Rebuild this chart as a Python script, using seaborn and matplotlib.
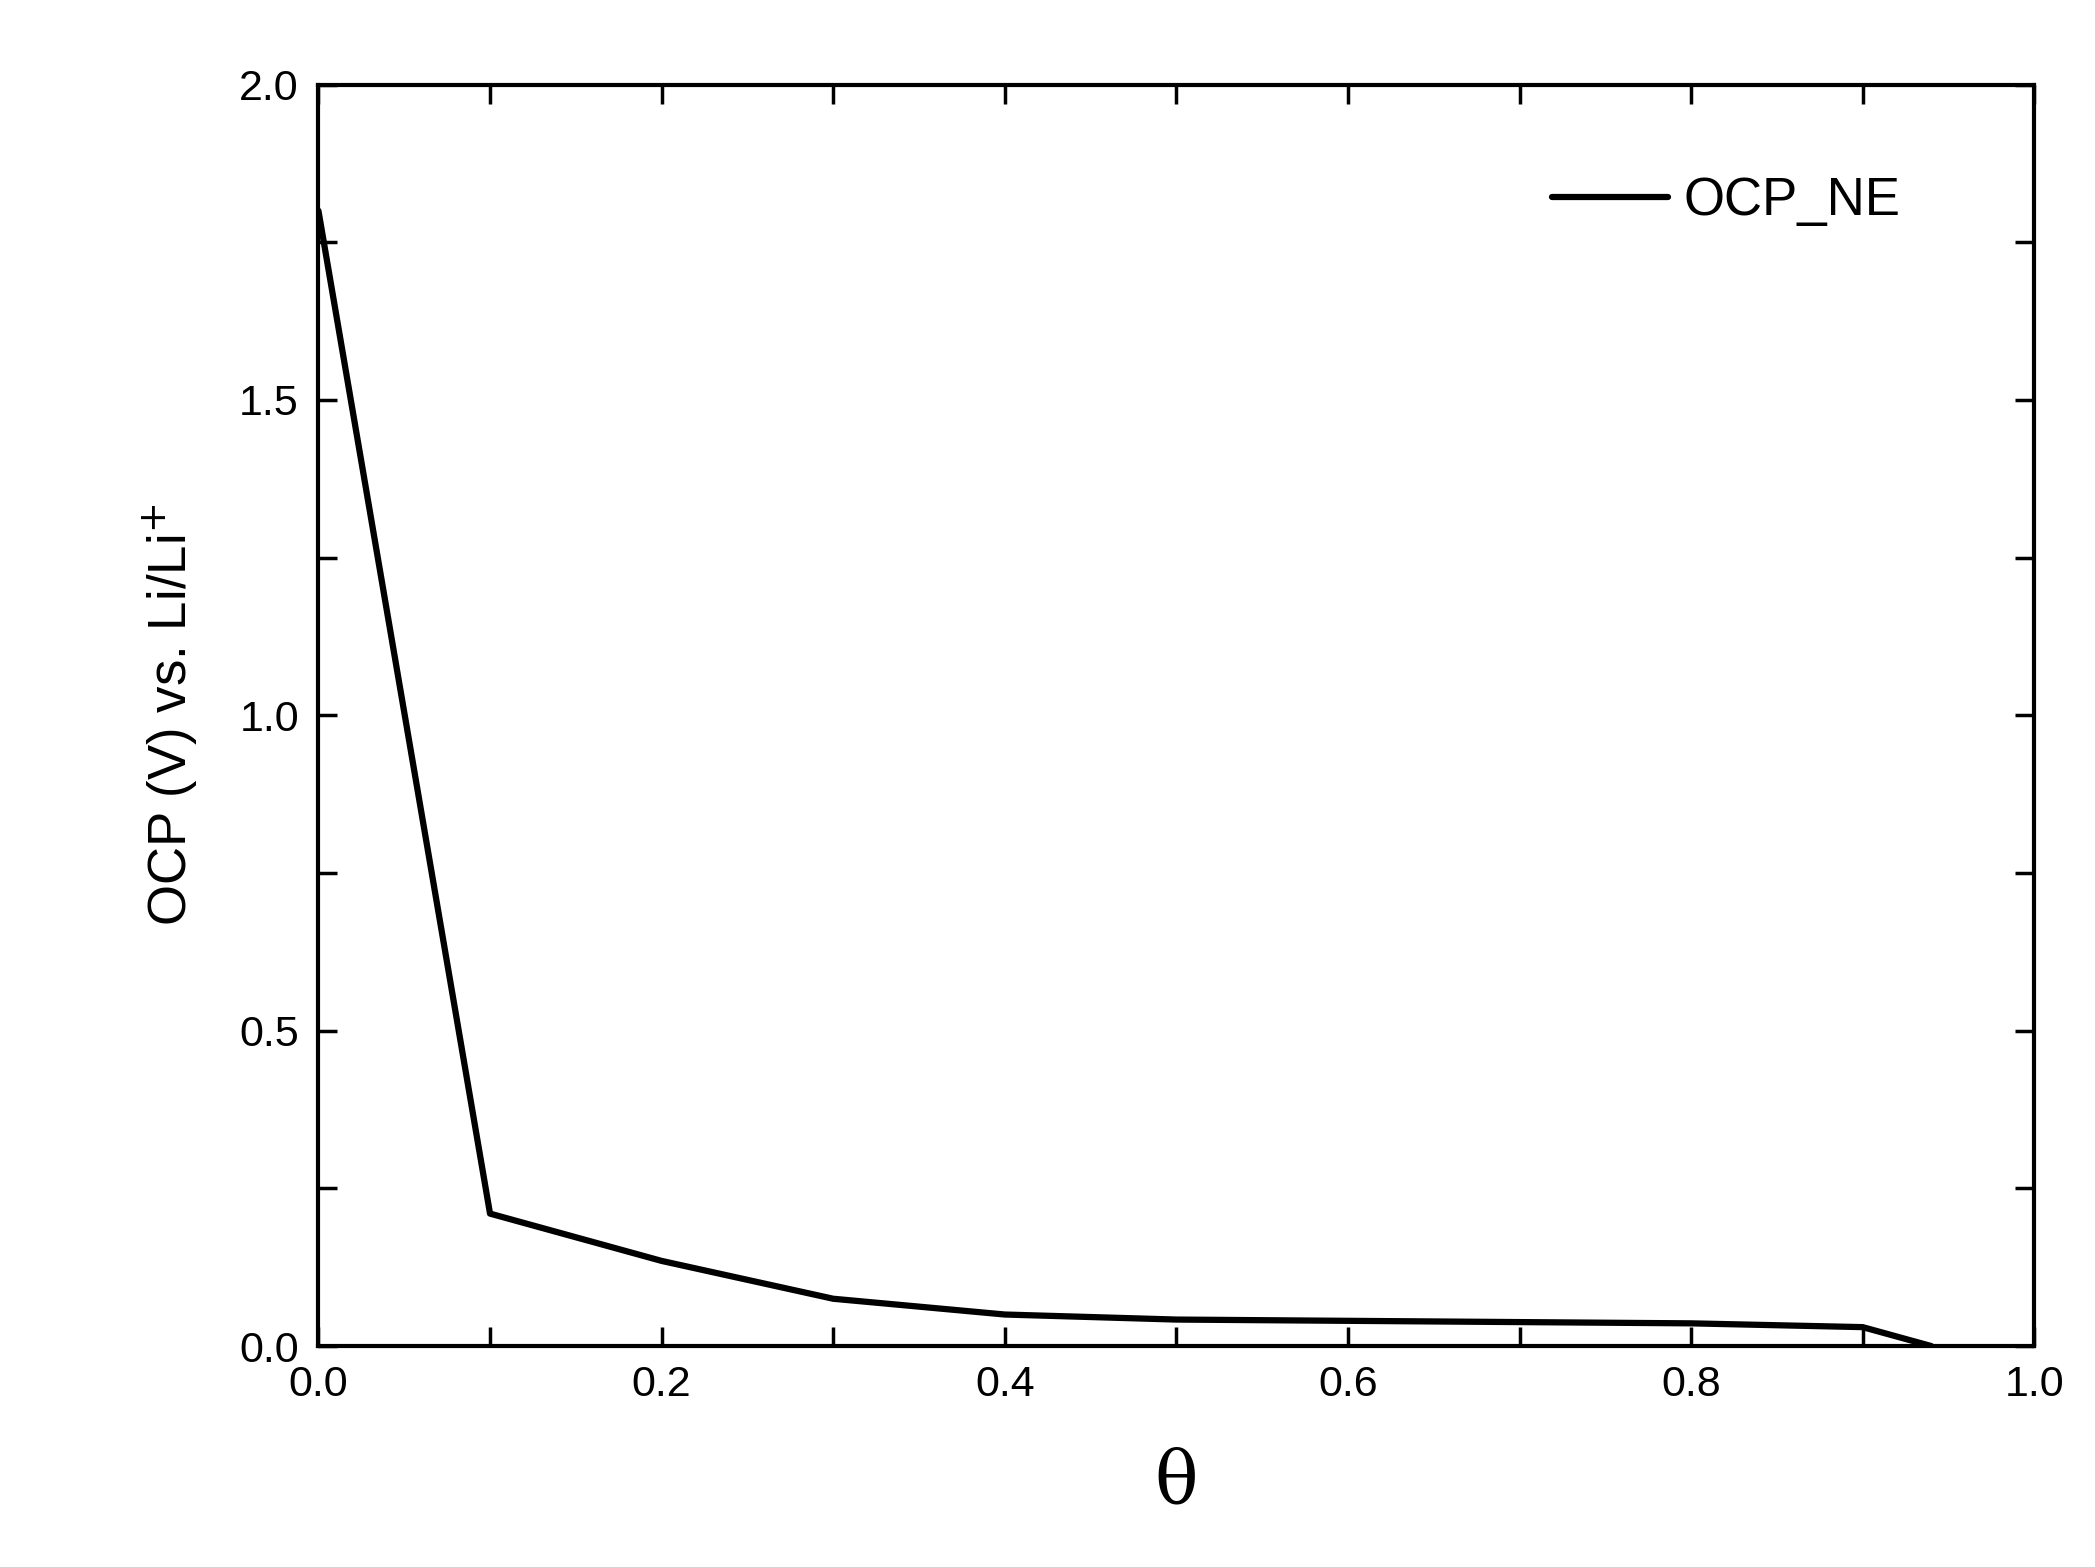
import matplotlib
matplotlib.use("Agg")
import matplotlib.pyplot as plt
import seaborn as sns
import pandas as pd
from matplotlib.ticker import MultipleLocator

theta = [0.0, 0.1, 0.2, 0.3, 0.4, 0.5, 0.6, 0.7, 0.8, 0.9, 0.94]
ocp = [1.80, 0.21, 0.135, 0.075, 0.05, 0.042, 0.04, 0.038, 0.036, 0.03, 0.0]
df = pd.DataFrame({"theta": theta, "ocp": ocp})

sns.set_theme(style="white")
plt.rcParams['font.family'] = ['Liberation Sans', 'DejaVu Sans']
fig = plt.figure(figsize=(20.95, 15.67), dpi=100)
ax = fig.add_axes([0.152, 0.141, 0.819, 0.805])
sns.lineplot(data=df, x="theta", y="ocp", ax=ax, color="black", linewidth=4.5, label="OCP_NE")
ax.set_xlim(0, 1.0)
ax.set_ylim(0, 2.0)
ax.xaxis.set_major_locator(MultipleLocator(0.2))
ax.xaxis.set_minor_locator(MultipleLocator(0.1))
ax.yaxis.set_major_locator(MultipleLocator(0.5))
ax.yaxis.set_minor_locator(MultipleLocator(0.25))
ax.set_xticklabels([f"{v:.1f}" for v in ax.get_xticks()])
ax.set_yticklabels([f"{v:.1f}" for v in ax.get_yticks()])
ax.tick_params(which="both", direction="in", top=True, right=True, bottom=True, left=True,
               labelsize=31, width=2.5, color="black", labelcolor="black", pad=14)
ax.tick_params(which="both", length=14)
for s in ax.spines.values():
    s.set_linewidth(3); s.set_color("black")
ax.set_xlabel("θ", fontsize=52, family="DejaVu Serif", labelpad=30, color="black")
ax.set_ylabel("OCP (V) vs. Li/Li$^{+}$", fontsize=38, labelpad=28, color="black")
leg = ax.legend(loc="upper right", fontsize=38, frameon=False, handlelength=2.2,
                handletextpad=0.3, bbox_to_anchor=(0.95, 0.965))
for t in leg.get_texts():
    t.set_color("black")
fig.savefig("out.png", dpi=100)
